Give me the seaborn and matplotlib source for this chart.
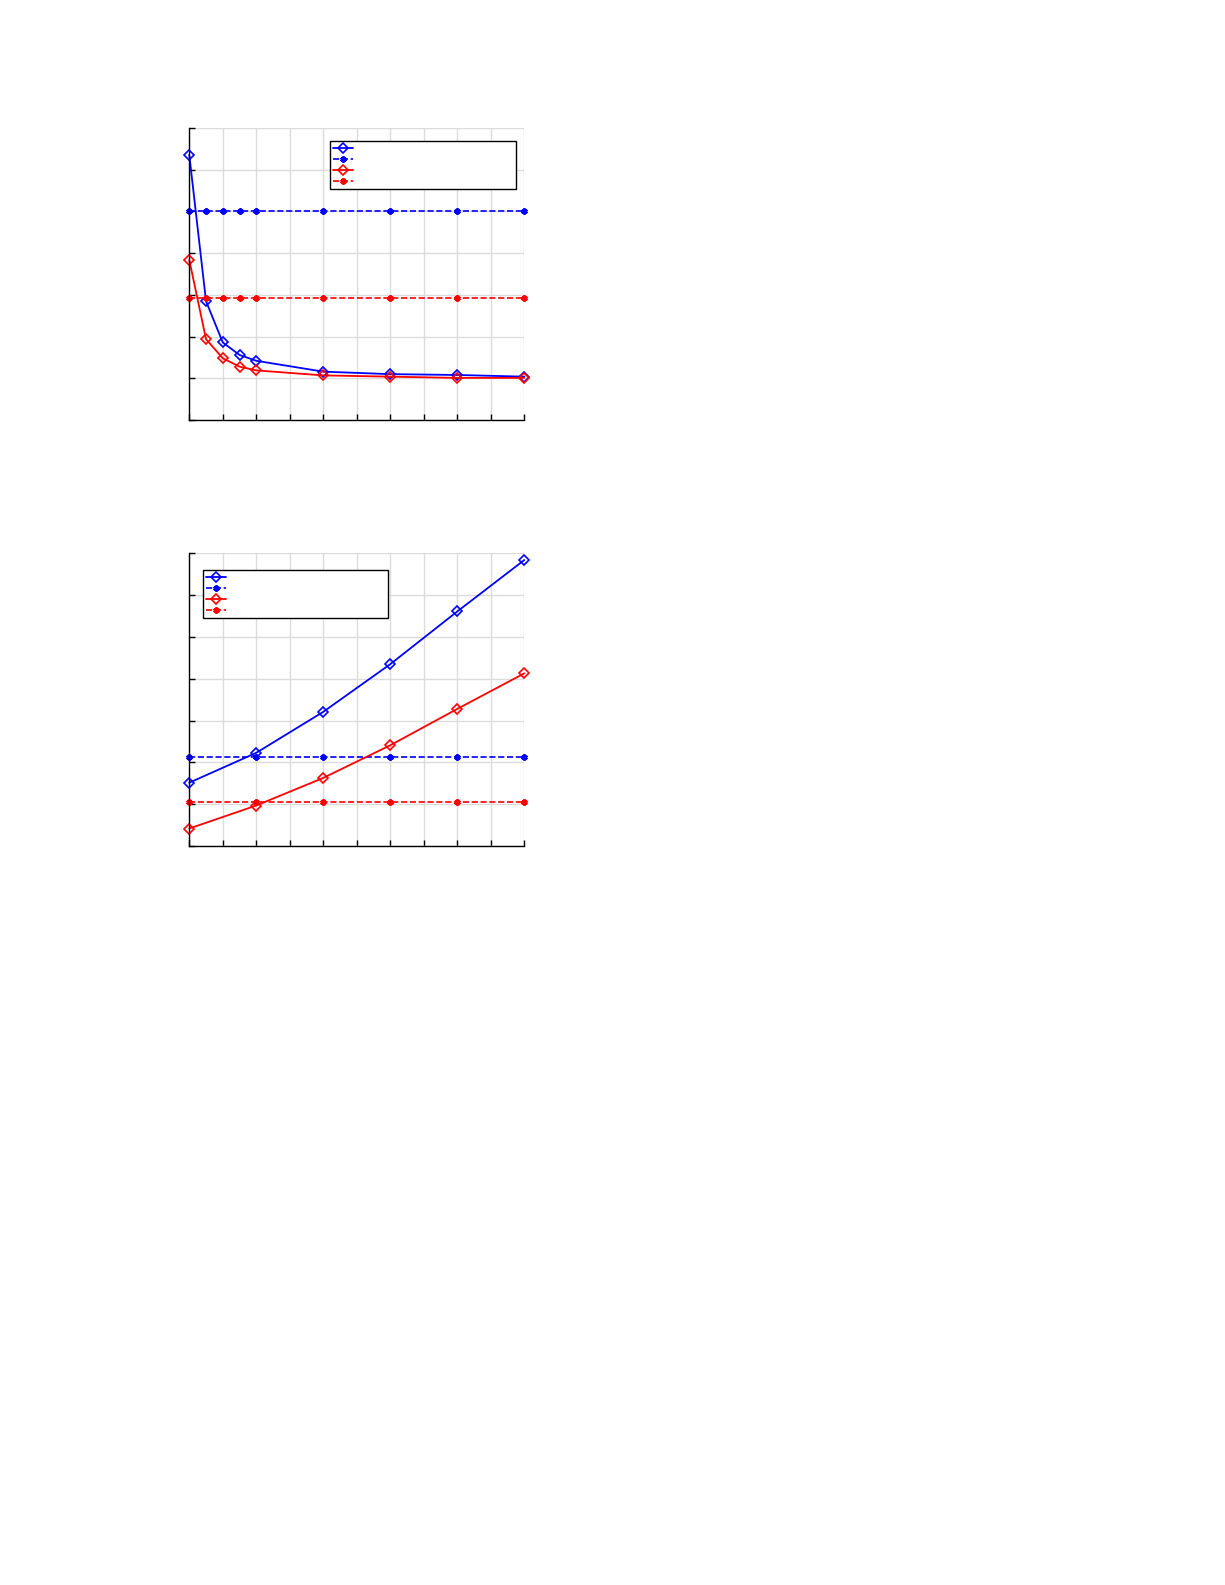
import matplotlib

matplotlib.use("Agg")
import matplotlib.pyplot as plt
import seaborn as sns

# top panel: values drop toward ~1 while the two reference levels stay flat
top_x = [0, 0.5, 1, 1.5, 2, 4, 6, 8, 10]
top_blue = [6.36, 2.85, 1.86, 1.56, 1.42, 1.16, 1.10, 1.08, 1.04]
top_blue_ref = [5.02, 5.02, 5.02, 5.02, 5.02, 5.02, 5.02, 5.02, 5.02]
top_red = [3.84, 1.94, 1.48, 1.28, 1.19, 1.07, 1.04, 1.01, 1.01]
top_red_ref = [2.92, 2.92, 2.92, 2.92, 2.92, 2.92, 2.92, 2.92, 2.92]

# bottom panel: values grow with x
bottom_x = [0, 2, 4, 6, 8, 10]
bottom_blue = [1.515, 2.23, 3.21, 4.35, 5.61, 6.84]
bottom_blue_ref = [2.14, 2.14, 2.14, 2.14, 2.14, 2.14]
bottom_red = [0.42, 0.97, 1.63, 2.41, 3.28, 4.13]
bottom_red_ref = [1.06, 1.06, 1.06, 1.06, 1.06, 1.06]

x_ticks = list(range(0, 11))
y_ticks = list(range(0, 8))
legend_labels = ["", "", "", ""]

sns.set_style("white")

fig = plt.figure(figsize=(12.25, 15.85), dpi=100)
ax_top = fig.add_axes([0.1545, 0.7350, 0.2735, 0.1842])
ax_bot = fig.add_axes([0.1545, 0.4662, 0.2735, 0.1847])


def draw_panel(ax, x, blue, blue_ref, red, red_ref, legend_box):
    diamond = dict(marker="D", markersize=4.8, markerfacecolor="none",
                   markeredgewidth=1.2, linewidth=1.3, clip_on=False)
    star = dict(marker=(6, 2, 0), markersize=4.5, markeredgewidth=1.6,
                linewidth=1.2, linestyle="--", dashes=(3.5, 2.2), clip_on=False)
    sns.lineplot(x=x, y=blue, ax=ax, color="#0000ff", markeredgecolor="#0000ff", **diamond)
    sns.lineplot(x=x, y=blue_ref, ax=ax, color="#0000ff", markeredgecolor="#0000ff", **star)
    sns.lineplot(x=x, y=red, ax=ax, color="#ff0000", markeredgecolor="#ff0000", **diamond)
    sns.lineplot(x=x, y=red_ref, ax=ax, color="#ff0000", markeredgecolor="#ff0000", **star)

    ax.set_xlim(0, 10)
    ax.set_ylim(0, 7)
    ax.set_xticks(x_ticks)
    ax.set_yticks(y_ticks)
    ax.set_xticklabels([])
    ax.set_yticklabels([])
    ax.set_xlabel("")
    ax.set_ylabel("")
    ax.grid(True, color="#dcdcdc", linewidth=1.0)
    ax.set_axisbelow(True)
    for side in ["top", "right"]:
        ax.spines[side].set_visible(False)
    for side in ["left", "bottom"]:
        ax.spines[side].set_color("black")
        ax.spines[side].set_linewidth(1.0)
    ax.tick_params(direction="in", length=4, width=1.0, color="black",
                   left=True, bottom=True)

    leg = ax.legend(ax.lines[:4], legend_labels, loc="upper left",
                    bbox_to_anchor=legend_box, mode="expand", borderaxespad=0,
                    fontsize=6.5, handlelength=2.2, labelspacing=0.22,
                    borderpad=0.3, fancybox=False, framealpha=1)
    leg.get_frame().set_edgecolor("black")
    leg.get_frame().set_linewidth(1.0)


draw_panel(ax_top, top_x, top_blue, top_blue_ref, top_red, top_red_ref,
           (0.421, 0.794, 0.553, 0.160))
draw_panel(ax_bot, bottom_x, bottom_blue, bottom_blue_ref, bottom_red, bottom_red_ref,
           (0.042, 0.781, 0.552, 0.161))

fig.savefig("out.png", dpi=100, facecolor="white")
plt.close(fig)
